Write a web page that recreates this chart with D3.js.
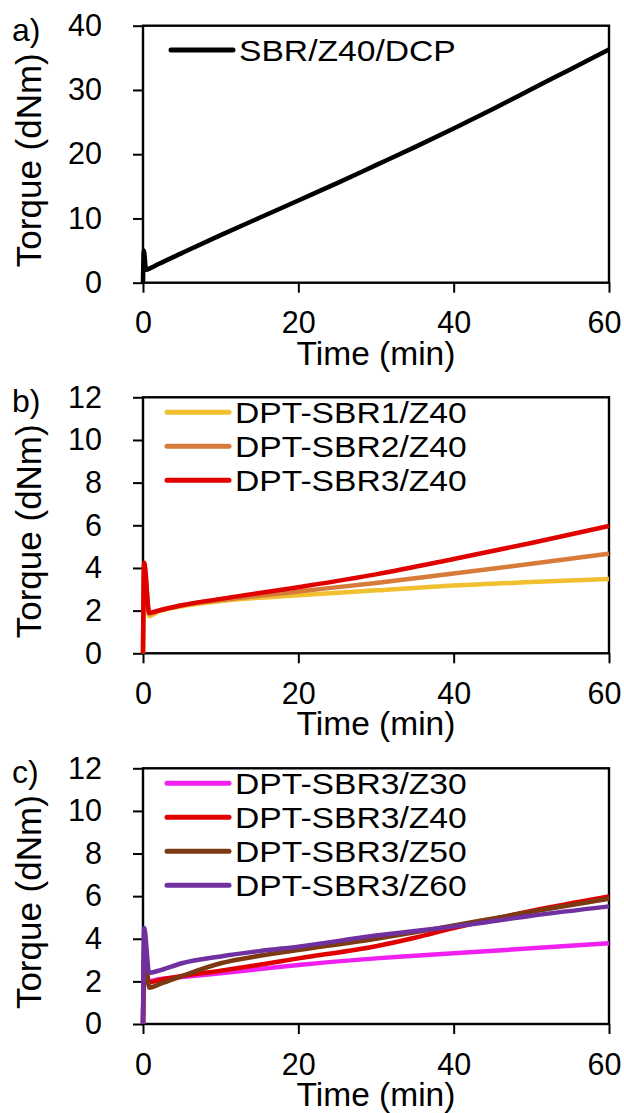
<!DOCTYPE html>
<html>
<head>
<meta charset="utf-8">
<script src="https://cdn.jsdelivr.net/npm/d3@7"></script>
<style>
  body { margin: 0; background: #fff; }
  svg { display: block; font-family: "Liberation Sans", Arial, sans-serif; }
</style>
</head>
<body>
<div id="chart"></div>
<script>
// time points (min)
const timeA = [0, 0.1, 0.4, 1, 2, 5, 10, 15, 20, 25, 30, 35, 40, 45, 50, 55, 60];
const sbrZ40Dcp = [0, 5.0, 2.0, 2.3, 2.9, 4.6, 7.4, 10.1, 12.8, 15.5, 18.3, 21.1, 24.0, 27.0, 30.1, 33.2, 36.3];

const timeB = [0, 0.15, 0.8, 2, 5, 10, 20, 30, 40, 50, 60];
const dptSbr1Z40 = [0, 4.0, 1.75, 1.95, 2.2, 2.45, 2.72, 2.95, 3.18, 3.34, 3.48];
const dptSbr2Z40 = [0, 4.1, 1.85, 2.0, 2.25, 2.5, 2.9, 3.3, 3.74, 4.2, 4.67];
const dptSbr3Z40 = [0, 4.25, 1.9, 2.0, 2.25, 2.55, 3.1, 3.7, 4.42, 5.17, 5.97];

const timeC = [0, 0.15, 0.8, 2, 5, 10, 15, 20, 30, 35, 40, 50, 60];
const dptSbr3Z30 = [0, 3.0, 2.0, 2.1, 2.2, 2.38, 2.58, 2.77, 3.08, 3.2, 3.32, 3.55, 3.79];
const dptSbr3Z40c = [0, 3.0, 1.95, 2.05, 2.25, 2.5, 2.78, 3.08, 3.65, 4.05, 4.5, 5.3, 5.98];
const dptSbr3Z50 = [0, 3.5, 1.7, 1.85, 2.25, 2.85, 3.2, 3.47, 4.0, 4.3, 4.62, 5.27, 5.88];
const dptSbr3Z60 = [0, 4.5, 2.4, 2.5, 2.85, 3.17, 3.42, 3.63, 4.15, 4.36, 4.57, 5.08, 5.52];

const xTicks = [0, 20, 40, 60];
const yTicksA = [0, 10, 20, 30, 40];
const yTicksB = [0, 2, 4, 6, 8, 10, 12];

const panels = [
  { tag: "a)", top: 25.7, bottom: 282.7, yMax: 40, yTicks: yTicksA, time: timeA,
    series: [{ name: "SBR/Z40/DCP", values: sbrZ40Dcp, color: "#000000" }],
    legendX: 171, legendY: 50 },
  { tag: "b)", top: 397.3, bottom: 653.3, yMax: 12, yTicks: yTicksB, time: timeB,
    series: [
      { name: "DPT-SBR1/Z40", values: dptSbr1Z40, color: "#f0c030" },
      { name: "DPT-SBR2/Z40", values: dptSbr2Z40, color: "#d67b3a" },
      { name: "DPT-SBR3/Z40", values: dptSbr3Z40, color: "#e00000" }
    ], legendX: 167, legendY: 412.3 },
  { tag: "c)", top: 768.3, bottom: 1024, yMax: 12, yTicks: yTicksB, time: timeC,
    series: [
      { name: "DPT-SBR3/Z30", values: dptSbr3Z30, color: "#f020f0" },
      { name: "DPT-SBR3/Z40", values: dptSbr3Z40c, color: "#e00000" },
      { name: "DPT-SBR3/Z50", values: dptSbr3Z50, color: "#7b3a12" },
      { name: "DPT-SBR3/Z60", values: dptSbr3Z60, color: "#7030a0" }
    ], legendX: 167, legendY: 783.3 }
];

const width = 624, height = 1113;
const left = 143, right = 609;
const legendGap = 34;

const svg = d3.select("#chart").append("svg")
  .attr("width", width)
  .attr("height", height);

panels.forEach(p => {
  const x = d3.scaleLinear().domain([0, 60]).range([left, right]);
  const y = d3.scaleLinear().domain([0, p.yMax]).range([p.bottom, p.top]);
  const g = svg.append("g");

  // x axis
  const xa = g.append("g")
    .attr("transform", `translate(0,${p.bottom})`)
    .call(d3.axisBottom(x).tickValues(xTicks).tickSize(10).tickPadding(19).tickFormat(d3.format("d")));
  xa.select(".domain").remove();
  xa.selectAll("line").attr("stroke-width", 2);
  xa.selectAll("text").attr("font-size", 30.5).attr("fill", "#000").attr("font-family", null)
    .attr("dx", d => d === 60 ? -5 : 0);

  // y axis
  const ya = g.append("g")
    .attr("transform", `translate(${left},0)`)
    .call(d3.axisLeft(y).tickValues(p.yTicks).tickSize(10).tickPadding(31).tickFormat(d3.format("d")));
  ya.select(".domain").remove();
  ya.selectAll("line").attr("stroke-width", 2);
  ya.selectAll("text").attr("font-size", 30.5).attr("fill", "#000").attr("font-family", null);

  // frame
  g.append("rect")
    .attr("x", left).attr("y", p.top)
    .attr("width", right - left).attr("height", p.bottom - p.top)
    .attr("fill", "none").attr("stroke", "#000").attr("stroke-width", 2.4);

  // curves
  const line = d3.line().x((d, i) => x(p.time[i])).y(d => y(d)).curve(d3.curveMonotoneX);
  p.series.forEach(s => {
    g.append("path")
      .datum(s.values)
      .attr("d", line)
      .attr("fill", "none")
      .attr("stroke", s.color)
      .attr("stroke-width", 4.5)
      .attr("stroke-linejoin", "round");
  });

  // legend
  p.series.forEach((s, i) => {
    const ly = p.legendY + i * legendGap;
    g.append("line")
      .attr("x1", p.legendX).attr("x2", p.legendX + 62)
      .attr("y1", ly).attr("y2", ly)
      .attr("stroke", s.color).attr("stroke-width", 5).attr("stroke-linecap", "round");
    // slightly widened glyphs so the tightly stacked rows keep the reference width
    g.append("text")
      .attr("transform", `translate(${p.legendX + 68},${ly + 11}) scale(1.11,1)`)
      .attr("font-size", 30.3)
      .text(s.name);
  });

  // axis titles
  g.append("text")
    .attr("x", (left + right) / 2).attr("y", p.bottom + 82)
    .attr("text-anchor", "middle").attr("font-size", 33.5)
    .text("Time (min)");
  g.append("text")
    .attr("transform", `translate(41,${(p.top + p.bottom) / 2 + 6}) rotate(-90)`)
    .attr("text-anchor", "middle").attr("font-size", 35)
    .text("Torque (dNm)");

  // panel tag
  g.append("text")
    .attr("x", 12).attr("y", p.top + 15)
    .attr("font-size", 32)
    .text(p.tag);
});
</script>
</body>
</html>
